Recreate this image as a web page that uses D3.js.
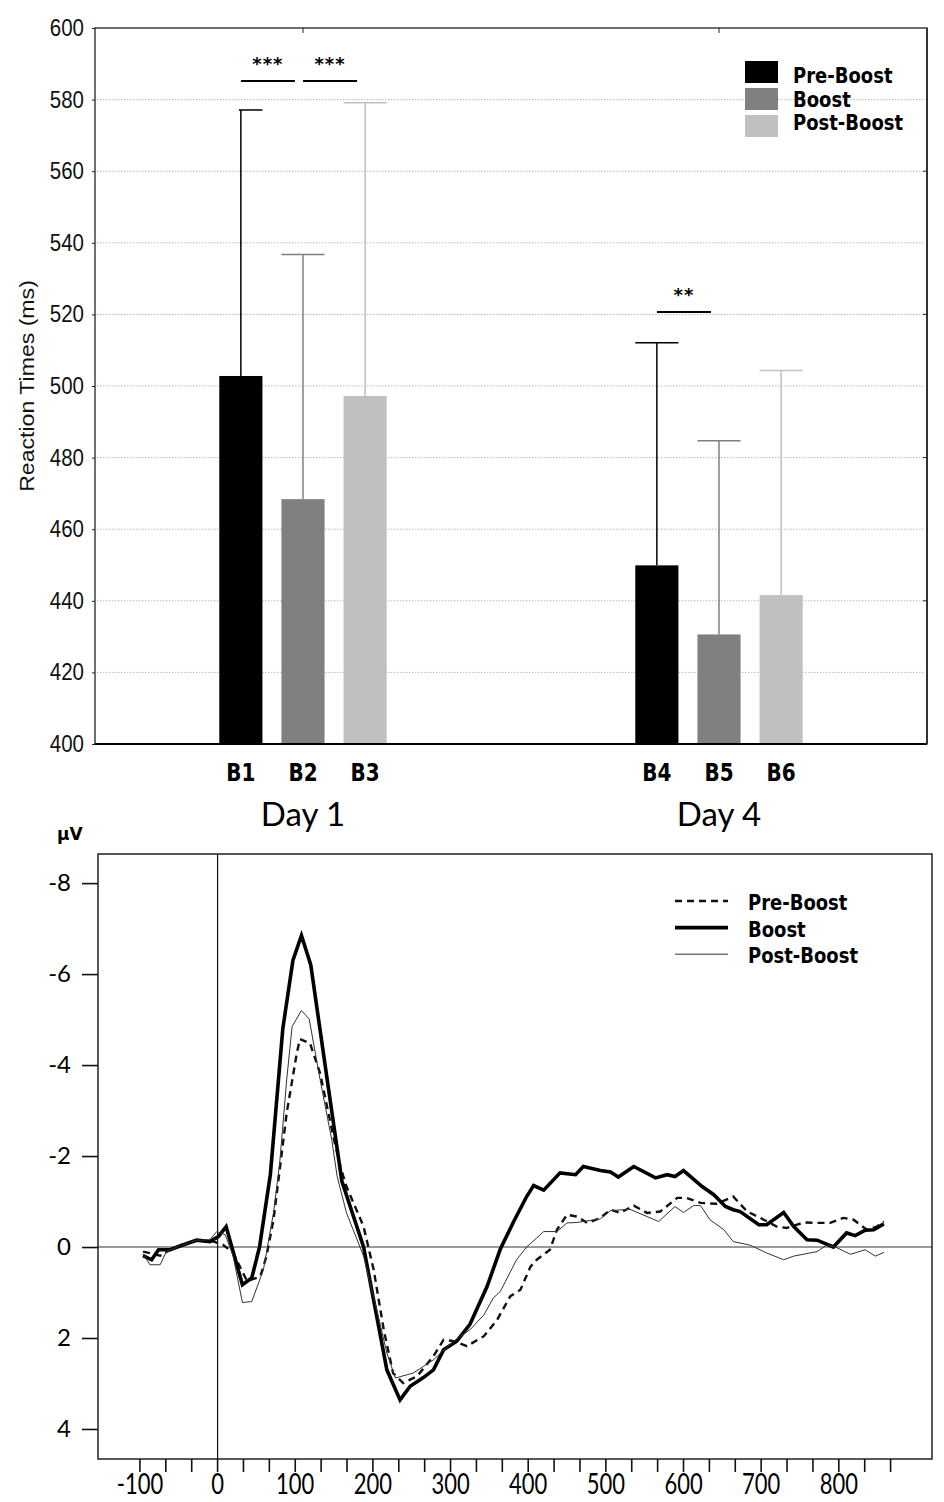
<!DOCTYPE html>
<html><head><meta charset="utf-8">
<script src="https://cdn.jsdelivr.net/npm/d3@7"></script>
<style>body{margin:0;background:#fff}svg{display:block}</style>
</head><body>
<script>
// ---------- Top chart data ----------
const blocks = ["B1","B2","B3","B4","B5","B6"];
const days = ["Day 1","Day 4"];
const conditions = ["Pre-Boost","Boost","Post-Boost"];
const conditionColors = ["#000000","#808080","#c0c0c0"];
const rtMeans = [502.8, 468.4, 497.2, 449.9, 430.6, 441.6];
const rtUpper = [577.1, 536.7, 579.1, 512.1, 484.7, 504.3];
const rtTicks = [400,420,440,460,480,500,520,540,560,580,600];
const rtGrid = [420,440,460,480,500,520,540,560,580];
const sigFrom = ["B1","B2","B4"];
const sigTo = ["B2","B3","B5"];
const sigLevel = [585.2, 585.2, 520.7];
const sigLabel = ["***","***","**"];

// ---------- Bottom chart data ----------
const erpTimeTicks = [-100,0,100,200,300,400,500,600,700,800];
const erpVoltTicks = [-8,-6,-4,-2,0,2,4];
const preTimes = [-96,-74,-57,-40,-23,-5,7,20,38,55,63,72,80,89,102,106,119,132,149,158,166,188,201,214,226,239,257,278,291,304,321,343,360,377,390,403,411,428,437,450,463,476,493,506,518,536,553,570,592,604,622,643,664,682,699,720,733,755,776,789,806,819,836,849,858];
const preValues = [0.1,0.19,0.02,-0.09,-0.15,-0.12,-0.05,0.13,0.75,0.65,0.2,-0.6,-1.7,-2.95,-4.26,-4.57,-4.48,-3.82,-2.43,-1.77,-1.33,-0.45,0.5,1.82,2.77,2.99,2.84,2.4,2.04,2.07,2.18,1.96,1.6,1.08,0.94,0.43,0.28,0.06,-0.38,-0.71,-0.67,-0.53,-0.64,-0.82,-0.75,-0.91,-0.75,-0.78,-1.08,-1.08,-0.97,-0.95,-1.11,-0.78,-0.64,-0.45,-0.42,-0.54,-0.53,-0.53,-0.64,-0.6,-0.38,-0.45,-0.56];
const boostTimes = [-96,-85,-76,-61,-44,-27,-10,1,11,32,44,54,68,84,97,108,120,141,160,188,218,235,248,265,278,291,308,325,347,364,381,398,407,420,441,461,471,493,506,516,536,564,579,589,600,624,639,654,664,673,697,707,729,742,759,772,793,810,821,834,845,858];
const boostValues = [0.19,0.28,0.06,0.06,-0.05,-0.15,-0.12,-0.23,-0.45,0.83,0.68,0,-1.6,-4.8,-6.3,-6.85,-6.2,-3.7,-1.45,0,2.7,3.36,3.06,2.87,2.7,2.26,2.07,1.7,0.87,0.05,-0.55,-1.11,-1.35,-1.25,-1.63,-1.59,-1.77,-1.68,-1.65,-1.54,-1.77,-1.52,-1.59,-1.55,-1.68,-1.33,-1.15,-0.89,-0.82,-0.78,-0.49,-0.49,-0.76,-0.45,-0.16,-0.15,0,-0.31,-0.25,-0.37,-0.38,-0.51];
const postTimes = [-96,-87,-74,-66,-48,-27,-10,-1,10,20,32,44,59,72,80,89,96,108,118,132,147,154,166,188,205,218,229,252,278,304,325,343,355,364,385,398,420,437,450,463,493,506,531,568,589,600,613,622,634,652,664,686,707,729,742,772,785,798,815,834,847,858];
const postValues = [0.15,0.39,0.39,0.1,-0.03,-0.15,-0.16,-0.34,-0.27,0.2,1.22,1.2,0.5,-0.75,-1.85,-3.68,-4.85,-5.2,-5.01,-3.68,-2.36,-1.55,-0.75,0.2,1.38,2.33,2.88,2.77,2.48,2.07,1.82,1.49,1.12,0.98,0.28,0,-0.34,-0.34,-0.53,-0.54,-0.62,-0.8,-0.83,-0.56,-0.89,-0.76,-0.91,-0.91,-0.6,-0.38,-0.12,-0.04,0.13,0.28,0.2,0.1,-0.05,0.02,0.16,0.06,0.2,0.12];

const W = 944, H = 1502;
const svg = d3.select("body").append("svg").attr("width", W).attr("height", H);

function stext(g, x, y, str, sy) {
  return g.append("text").attr("transform", `translate(${x},${y}) scale(1,${sy})`).text(str);
}

// ================= TOP CHART =================
const gTop = svg.append("g");
const yRT = d3.scaleLinear().domain([400, 600]).range([744, 28]);
const xDay = d3.scaleBand().domain(days).range([95, 927]);
const xCond = d3.scaleBand().domain(conditions).range([0, xDay.bandwidth()]).paddingInner(0.306).paddingOuter(2.0);
const barData = blocks.map((b, i) => ({
  block: b, day: days[Math.floor(i / 3)], cond: conditions[i % 3],
  color: conditionColors[i % 3], mean: rtMeans[i], upper: rtUpper[i]
}));
const bx = d => xDay(d.day) + xCond(d.cond);
const bc = d => bx(d) + xCond.bandwidth() / 2;

// grid
gTop.selectAll(".grid").data(rtGrid).join("line")
  .attr("x1", 97).attr("x2", 925).attr("y1", d => yRT(d)).attr("y2", d => yRT(d))
  .attr("stroke", "#b8b8b8").attr("stroke-width", 1).attr("stroke-dasharray", "1.5,1.5");

// y axis
const yAx = gTop.append("g").attr("transform", "translate(95,0)")
  .call(d3.axisLeft(yRT).tickValues(rtTicks).tickSize(3).tickPadding(8));
yAx.select(".domain").remove();
yAx.selectAll(".tick line").attr("stroke", "#222");
yAx.selectAll(".tick text").attr("font-family", "'Liberation Sans', Arial, sans-serif")
  .attr("font-size", 20.5).attr("fill", "#111").attr("transform", "scale(1,1.15)");

gTop.append("text").attr("transform", "translate(34,386) rotate(-90) scale(1.1,1)")
  .attr("text-anchor", "middle").attr("font-family", "'Liberation Sans', Arial, sans-serif")
  .attr("font-size", 21).attr("fill", "#111").text("Reaction Times (ms)");

// bars
gTop.selectAll(".bar").data(barData).join("rect")
  .attr("x", bx).attr("width", xCond.bandwidth())
  .attr("y", d => yRT(d.mean)).attr("height", d => yRT(400) - yRT(d.mean))
  .attr("fill", d => d.color);

// error bars
gTop.selectAll(".err").data(barData).join("line")
  .attr("x1", bc).attr("x2", bc).attr("y1", d => yRT(d.mean)).attr("y2", d => yRT(d.upper))
  .attr("stroke", d => d.color).attr("stroke-width", 1.5);
gTop.selectAll(".cap").data(barData).join("line")
  .attr("x1", d => (d.block === "B1" ? bc(d) - 2 : bx(d))).attr("x2", d => bx(d) + xCond.bandwidth())
  .attr("y1", d => yRT(d.upper)).attr("y2", d => yRT(d.upper))
  .attr("stroke", d => d.color).attr("stroke-width", 1.5);

// frame
gTop.append("rect").attr("x", 95).attr("y", 28).attr("width", 832).attr("height", 716)
  .attr("fill", "none").attr("stroke", "#222").attr("stroke-width", 1.3);
gTop.append("line").attr("x1", 95).attr("x2", 927).attr("y1", 744).attr("y2", 744)
  .attr("stroke", "#000").attr("stroke-width", 1.8);
gTop.append("line").attr("x1", 927).attr("x2", 927).attr("y1", 28).attr("y2", 744)
  .attr("stroke", "#333").attr("stroke-width", 2);
gTop.selectAll(".ttick").data(days).join("line")
  .attr("x1", d => xDay(d) + xDay.bandwidth() / 2).attr("x2", d => xDay(d) + xDay.bandwidth() / 2)
  .attr("y1", 28).attr("y2", 33).attr("stroke", "#222");
gTop.selectAll(".rtick").data([560, 520, 480, 440]).join("line")
  .attr("x1", 923).attr("x2", 927).attr("y1", d => yRT(d)).attr("y2", d => yRT(d)).attr("stroke", "#222");

// significance
sigFrom.forEach((f, i) => {
  const a = barData.find(d => d.block === f), b = barData.find(d => d.block === sigTo[i]);
  const mid = (bc(a) + bc(b)) / 2 - 4;
  const y = yRT(sigLevel[i]);
  gTop.append("line").attr("x1", mid - 27).attr("x2", mid + 27).attr("y1", y).attr("y2", y)
    .attr("stroke", "#000").attr("stroke-width", 2);
  gTop.append("text").attr("x", mid).attr("y", y - 11).attr("text-anchor", "middle")
    .attr("font-family", "'DejaVu Sans', sans-serif").attr("font-weight", "bold")
    .attr("font-size", 18).attr("letter-spacing", 1).text(sigLabel[i]);
});

// block labels
barData.forEach(d => {
  stext(gTop, bc(d), 781, d.block, 1.2).attr("text-anchor", "middle")
    .attr("font-family", "'DejaVu Sans', Verdana, sans-serif").attr("font-weight", "bold")
    .attr("font-size", 20).attr("fill", "#000");
});
days.forEach(d => {
  gTop.append("text").attr("x", xDay(d) + xDay.bandwidth() / 2).attr("y", 826)
    .attr("text-anchor", "middle").attr("font-family", "Lato, 'Open Sans', sans-serif")
    .attr("font-size", 33).attr("fill", "#000").text(d);
});

// legend
conditions.forEach((c, i) => {
  gTop.append("rect").attr("x", 745).attr("y", 61 + i * 27).attr("width", 33).attr("height", 22)
    .attr("fill", conditionColors[i]);
  stext(gTop, 793, 83 + i * 23.5, c, 1.2).attr("font-family", "'DejaVu Sans', Verdana, sans-serif")
    .attr("font-weight", "bold").attr("font-size", 18).attr("fill", "#000");
});

// ================= BOTTOM CHART =================
const gBot = svg.append("g");
const xT = d3.scaleLinear().domain([-154, 920]).range([98, 932]);
const yV = d3.scaleLinear().domain([-8.64, 4.66]).range([854, 1459]);

gBot.append("line").attr("x1", 98).attr("x2", 932).attr("y1", yV(0)).attr("y2", yV(0))
  .attr("stroke", "#777").attr("stroke-width", 1.5);
gBot.append("line").attr("x1", xT(0)).attr("x2", xT(0)).attr("y1", 854).attr("y2", 1459)
  .attr("stroke", "#111").attr("stroke-width", 1.2);

gBot.append("rect").attr("x", 98).attr("y", 854).attr("width", 834).attr("height", 605)
  .attr("fill", "none").attr("stroke", "#222").attr("stroke-width", 1.5);

const yAx2 = gBot.append("g").attr("transform", "translate(98,0)")
  .call(d3.axisLeft(yV).tickValues(erpVoltTicks).tickSize(16).tickPadding(11).tickFormat(d3.format("d")));
yAx2.select(".domain").remove();
yAx2.selectAll(".tick line").attr("stroke", "#111").attr("stroke-width", 1.6);
yAx2.selectAll(".tick text").attr("font-family", "Lato, 'Open Sans', sans-serif")
  .attr("font-size", 24).attr("fill", "#000").text(d => d < 0 ? "-" + Math.abs(d) : d);

gBot.append("text").attr("x", 57).attr("y", 840).attr("font-family", "'DejaVu Sans', sans-serif")
  .attr("font-weight", "bold").attr("font-size", 17).text("µV");

const minorTicks = d3.range(0, 30).map(k => -100 + k * 100 / 3);
gBot.selectAll(".xt").data(minorTicks).join("line")
  .attr("x1", d => xT(d)).attr("x2", d => xT(d)).attr("y1", 1459).attr("y2", 1472)
  .attr("stroke", "#111").attr("stroke-width", 1.6);
erpTimeTicks.forEach(t => {
  stext(gBot, xT(t), 1494, t < 0 ? "-" + Math.abs(t) : String(t), 1.27).attr("text-anchor", "middle")
    .attr("font-family", "Lato, 'Open Sans', sans-serif").attr("font-size", 22).attr("fill", "#000");
});

const line = d3.line().x(d => xT(d[0])).y(d => yV(d[1]));
const series = [
  {name: "Pre-Boost", times: preTimes, values: preValues, width: 2.4, dash: "7,5", color: "#111"},
  {name: "Boost", times: boostTimes, values: boostValues, width: 3.6, dash: null, color: "#000"},
  {name: "Post-Boost", times: postTimes, values: postValues, width: 1, dash: null, color: "#333"}
];
series.forEach(s => {
  gBot.append("path").datum(s.times.map((t, i) => [t, s.values[i]]))
    .attr("d", line).attr("fill", "none").attr("stroke", s.color)
    .attr("stroke-width", s.width).attr("stroke-dasharray", s.dash)
    .attr("stroke-linejoin", "miter");
});

series.forEach((s, i) => {
  const y = 901 + i * 26.6;
  gBot.append("line").attr("x1", 675).attr("x2", 728).attr("y1", y).attr("y2", y)
    .attr("stroke", s.color).attr("stroke-width", s.width).attr("stroke-dasharray", s.dash);
  stext(gBot, 748, y + 9, s.name, 1.15).attr("font-family", "'DejaVu Sans', Verdana, sans-serif")
    .attr("font-weight", "bold").attr("font-size", 18).attr("fill", "#000");
});
</script>
</body></html>
